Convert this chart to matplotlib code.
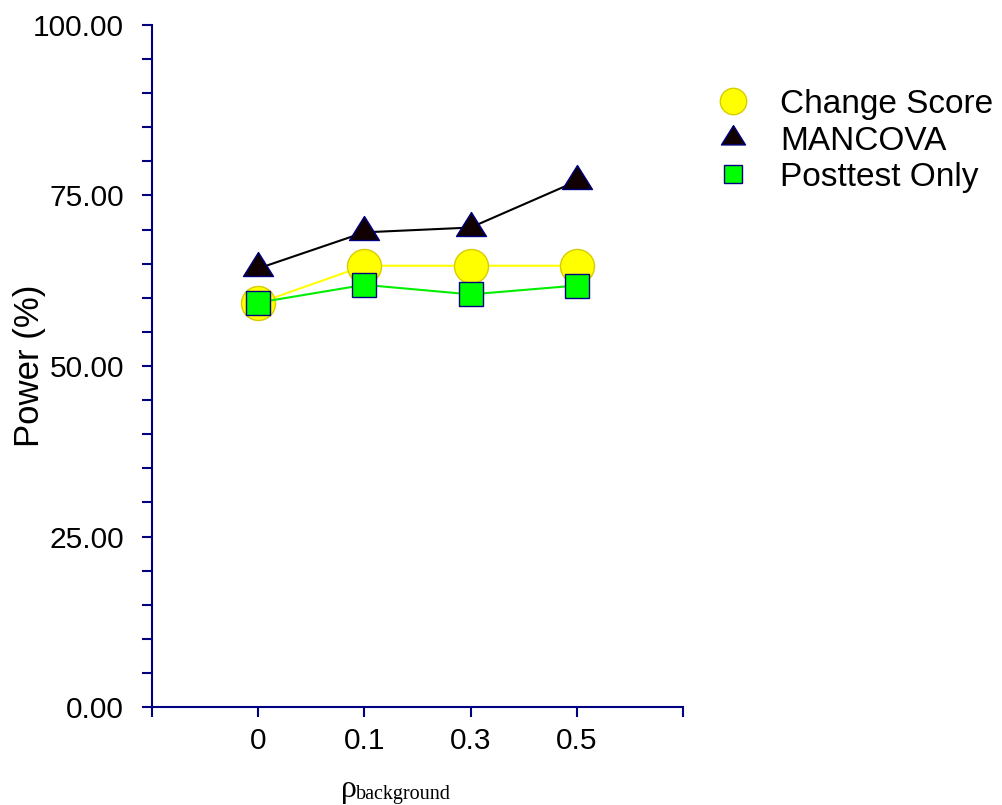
import matplotlib
matplotlib.use("Agg")
import matplotlib.pyplot as plt
from matplotlib.path import Path
from matplotlib.lines import Line2D

plt.rcParams['font.family'] = ['Liberation Sans', 'DejaVu Sans']

categories = ["0", "0.1", "0.3", "0.5"]
change_score = [59.2, 64.7, 64.7, 64.7]
mancova = [64.3, 69.6, 70.3, 77.1]
posttest_only = [59.3, 61.9, 60.5, 61.8]
y_ticklabels = ["0.00", "25.00", "50.00", "75.00", "100.00"]

navy = "#000080"
fig = plt.figure(figsize=(10.02, 8.05), dpi=100)
ax = fig.add_axes([152/1002, 1-707/805, (683-152)/1002, (707-25)/805])

xs = list(range(len(categories)))

# centroid-centred triangle (w=30, h=24)
tri = Path([(0, 16), (-15, -8), (15, -8), (0, 16)],
           [Path.MOVETO, Path.LINETO, Path.LINETO, Path.CLOSEPOLY])

ax.plot(xs, change_score, color="#FFFF00", lw=1.5, marker="o", ms=24.5,
        mfc="#FFFF00", mec="#D8CC00", mew=1.0, zorder=3)
ax.plot(xs, mancova, color="#000000", lw=1.5, marker=tri, ms=23,
        mfc="#100000", mec=navy, mew=1.0, zorder=4)
ax.plot(xs, posttest_only, color="#00EE00", lw=1.5, marker="s", ms=17.5,
        mfc="#00FF00", mec=navy, mew=1.0, zorder=5)

ax.set_xlim(-1, 4)
ax.set_ylim(0, 100)
ax.set_xticks([-1] + xs + [4])
ax.set_xticklabels([""] + categories + [""])
ax.set_yticks([0, 25, 50, 75, 100])
ax.set_yticklabels(y_ticklabels)
ax.set_yticks(list(range(0, 101, 5)), minor=True)

for s in ["top", "right"]:
    ax.spines[s].set_visible(False)
for s in ["left", "bottom"]:
    ax.spines[s].set_color(navy)
    ax.spines[s].set_linewidth(1.5)

ax.tick_params(axis="both", which="both", color=navy, width=1.5, length=7.2,
               direction="out", labelsize=21.5)
ax.tick_params(axis="y", which="major", pad=13)
ax.tick_params(axis="x", pad=7)

fig.text(30/1002, 1-366/805, "Power (%)", rotation=90, fontsize=25,
         ha="center", va="center")
fig.text(341/1002, 1-797/805, "ρ", fontsize=23, family="Liberation Serif",
         ha="left", va="baseline")
fig.text(356/1002, 1-799/805, "background", fontsize=14.5, family="Liberation Serif",
         ha="left", va="baseline")

handles = [
    Line2D([], [], ls="none", marker="o", ms=19, mfc="#FFFF00", mec="#D8CC00", mew=1.0),
    Line2D([], [], ls="none", marker=tri, ms=18.5, mfc="#100000", mec=navy, mew=1.0),
    Line2D([], [], ls="none", marker="s", ms=12.5, mfc="#00FF00", mec=navy, mew=1.0),
]
labels = ["Change Score", "MANCOVA", "Posttest Only"]
fig.legend(handles, labels, loc="upper left", bbox_to_anchor=(710/1002, 1-89/805),
           frameon=False, fontsize=24, handlelength=1.4, handletextpad=0.7,
           labelspacing=0.165, borderaxespad=0, borderpad=0)

fig.savefig("out.png", dpi=100)
